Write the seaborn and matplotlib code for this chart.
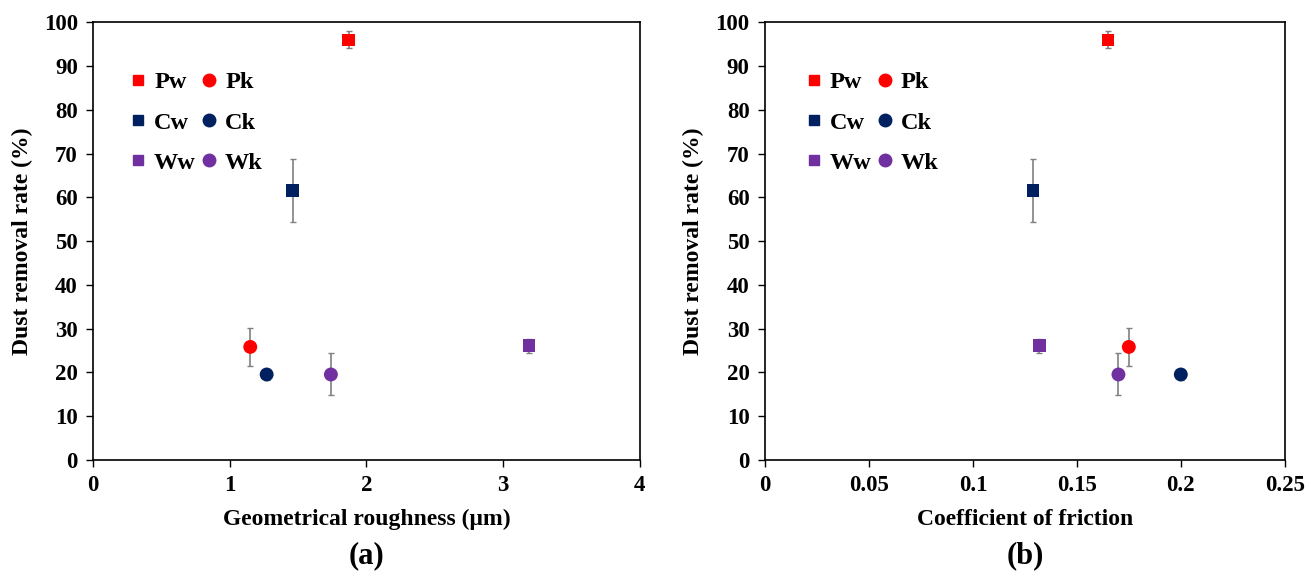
import numpy as np
import pandas as pd
import seaborn as sns
import matplotlib.pyplot as plt

# 样品名称与颜色、标记
samples = ["Pw", "Cw", "Ww", "Pk", "Ck", "Wk"]
colors = ["#FF0000", "#002060", "#7030A0", "#FF0000", "#002060", "#7030A0"]
markers = ["s", "s", "s", "o", "o", "o"]

# 数据
roughness = [1.87, 1.46, 3.19, 1.15, 1.27, 1.74]
friction = [0.165, 0.129, 0.132, 0.175, 0.200, 0.170]
removal = [96.0, 61.5, 26.1, 25.8, 19.5, 19.5]
removal_err = [2.0, 7.2, 1.6, 4.3, 1.3, 4.8]

df = pd.DataFrame({"sample": samples, "roughness": roughness, "friction": friction,
                   "removal": removal, "err": removal_err})

sns.set_style("ticks")
plt.rcParams['font.family'] = ['Liberation Serif', 'DejaVu Serif']
plt.rcParams['font.weight'] = 'bold'
plt.rcParams['text.color'] = 'black'
plt.rcParams['axes.labelcolor'] = 'black'
plt.rcParams['xtick.color'] = 'black'
plt.rcParams['ytick.color'] = 'black'

fig = plt.figure(figsize=(13.11, 5.85), dpi=100)
ax1 = fig.add_axes([0.071, 0.214, 0.417, 0.748])
ax2 = fig.add_axes([0.5835, 0.214, 0.3965, 0.748])

palette = dict(zip(samples, colors))
sizes = {"s": 80, "o": 100}


def draw(ax, xcol, xlim, xticks, xticklabels, xlabel, tag, leg_x):
    ax.errorbar(df[xcol], df["removal"], yerr=df["err"], fmt="none", ecolor="#808080",
                elinewidth=1.2, capsize=2.5, capthick=1, zorder=1)
    for m in ["s", "o"]:
        sub = df[[mm == m for mm in markers]]
        sns.scatterplot(data=sub, x=xcol, y="removal", hue="sample",
                        palette=palette, marker=m, s=sizes[m], edgecolor="none",
                        ax=ax, zorder=3, legend=False)
    ax.set_xlim(xlim)
    ax.set_ylim(0, 100)
    ax.set_xticks(xticks)
    ax.set_xticklabels(xticklabels)
    ax.set_yticks(np.arange(0, 101, 10))
    ax.tick_params(direction="out", length=5, width=1, labelsize=16.5, pad=6)
    for lab in ax.get_xticklabels() + ax.get_yticklabels():
        lab.set_fontweight("bold")
    for sp in ax.spines.values():
        sp.set_linewidth(1.2)
        sp.set_color("black")
    ax.set_xlabel(xlabel, fontsize=17, fontweight="bold", labelpad=9)
    ax.set_ylabel("Dust removal rate (%)", fontsize=17, fontweight="bold", labelpad=8)
    ax.text(0.5, -0.22, tag, transform=ax.transAxes, ha="center", va="center",
            fontsize=22, fontweight="bold")
    handles = [plt.Line2D([], [], linestyle="none", marker=m, color=c,
                          markersize=(9 if m == "o" else 7.5))
               for m, c in zip(markers, colors)]
    ax.legend(handles, samples, ncol=2, frameon=False, loc="upper left",
              bbox_to_anchor=(leg_x, 0.91), prop={"size": 17.5, "weight": "bold"},
              handletextpad=0.2, columnspacing=0.1, labelspacing=0.75,
              handlelength=0.9, borderaxespad=0)


draw(ax1, "roughness", (0, 4), [0, 1, 2, 3, 4], ["0", "1", "2", "3", "4"],
     "Geometrical roughness (μm)", "(a)", 0.045)
draw(ax2, "friction", (0, 0.25), [0, 0.05, 0.1, 0.15, 0.2, 0.25],
     ["0", "0.05", "0.1", "0.15", "0.2", "0.25"], "Coefficient of friction", "(b)", 0.055)

fig.savefig("out.png", dpi=100)
